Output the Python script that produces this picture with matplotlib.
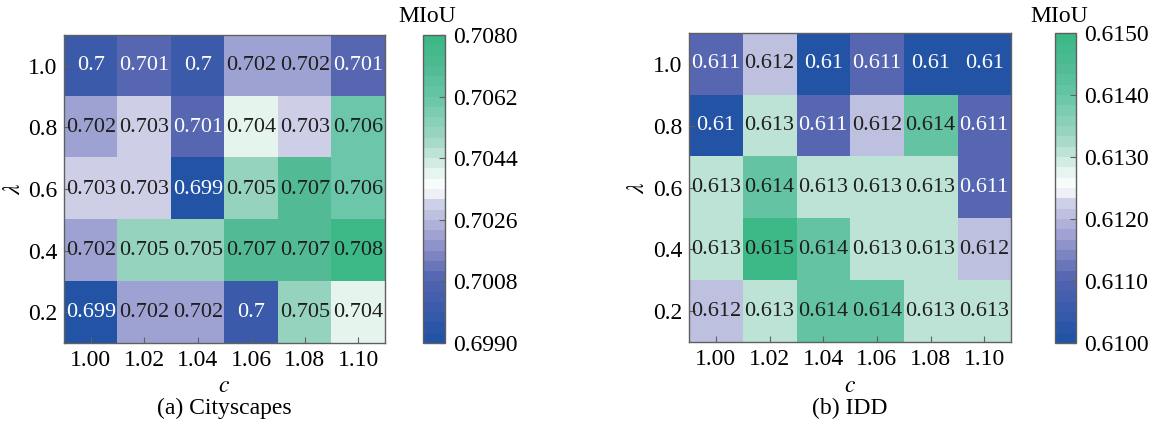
import numpy as np
import matplotlib
matplotlib.use("Agg")
import matplotlib.pyplot as plt
from matplotlib.colors import LinearSegmentedColormap

plt.rcParams["font.family"] = ["Liberation Serif", "DejaVu Serif"]
plt.rcParams["mathtext.fontset"] = "stix"
plt.rcParams["font.size"] = 17

# hyper-parameter grid
c_vals = ["1.00", "1.02", "1.04", "1.06", "1.08", "1.10"]
lam_vals = ["1.0", "0.8", "0.6", "0.4", "0.2"]  # top row first

# MIoU, rows = lambda (1.0 -> 0.2), cols = c
miou_cityscapes = [
    [0.700, 0.701, 0.700, 0.702, 0.702, 0.701],
    [0.702, 0.703, 0.701, 0.704, 0.703, 0.706],
    [0.703, 0.703, 0.699, 0.705, 0.707, 0.706],
    [0.702, 0.705, 0.705, 0.707, 0.707, 0.708],
    [0.699, 0.702, 0.702, 0.700, 0.705, 0.704],
]
miou_idd = [
    [0.611, 0.612, 0.610, 0.611, 0.610, 0.610],
    [0.610, 0.613, 0.611, 0.612, 0.614, 0.611],
    [0.613, 0.614, 0.613, 0.613, 0.613, 0.611],
    [0.613, 0.615, 0.614, 0.613, 0.613, 0.612],
    [0.612, 0.613, 0.614, 0.614, 0.613, 0.613],
]
cbar_range_cityscapes = (0.6990, 0.7080)
cbar_range_idd = (0.6100, 0.6150)

# blue -> white -> green, stepped like the original colormap
anchors = [
    (0.00, "#2253a5"), (0.20, "#5464b0"), (0.33, "#989ccf"),
    (0.45, "#cfd0e8"), (0.50, "#ffffff"), (0.56, "#e2f3ec"),
    (0.67, "#9ed6c3"), (0.80, "#6ac7a9"), (0.90, "#52bb95"),
    (1.00, "#3db887"),
]
cmap = LinearSegmentedColormap.from_list("bwg", anchors).resampled(30)

W, H = 1152, 425
fig = plt.figure(figsize=(W / 100, H / 100), dpi=100)


def px_rect(x0, y0, x1, y1):
    return [x0 / W, 1 - y1 / H, (x1 - x0) / W, (y1 - y0) / H]


frame_col = "#606060"
fs = 17
cell_fs = 16


def heatmap(ax_rect, cb_rect, data, vrange, subtitle):
    data = np.array(data)
    vmin, vmax = vrange
    ax = fig.add_axes(px_rect(*ax_rect))
    im = ax.imshow(data, cmap=cmap, vmin=vmin, vmax=vmax, aspect="auto",
                   interpolation="nearest")
    for i in range(data.shape[0]):
        for j in range(data.shape[1]):
            v = data[i, j]
            frac = (v - vmin) / (vmax - vmin)
            col = "white" if frac < 0.25 else "#1e1e1e"
            ax.text(j, i, f"{v:.3g}", ha="center", va="center", color=col,
                    fontsize=cell_fs)
    ax.set_xticks(range(len(c_vals)))
    ax.set_xticklabels(c_vals)
    ax.set_yticks(range(len(lam_vals)))
    ax.set_yticklabels(lam_vals)
    ax.tick_params(direction="in", length=4, color=frame_col, labelsize=fs,
                   pad=5)
    for s in ax.spines.values():
        s.set_color(frame_col)
        s.set_linewidth(1.0)

    # axis names and panel caption
    x_mid = (ax_rect[0] + ax_rect[2]) / 2
    y_mid = (ax_rect[1] + ax_rect[3]) / 2
    fig.text(x_mid / W, 1 - 386 / H, r"$c$", ha="center", va="center",
             fontsize=fs)
    fig.text(x_mid / W, 1 - 408 / H, subtitle, ha="center", va="center",
             fontsize=fs)
    fig.text((ax_rect[0] - 50) / W, 1 - y_mid / H, r"$\lambda$",
             ha="center", va="center", rotation=90, fontsize=fs)

    cax = fig.add_axes(px_rect(*cb_rect))
    cb = fig.colorbar(im, cax=cax)
    cb.set_ticks(np.linspace(vmin, vmax, 6))
    cb.ax.yaxis.set_major_formatter(matplotlib.ticker.FormatStrFormatter("%.4f"))
    cb.ax.tick_params(direction="in", length=4, color=frame_col, labelsize=fs,
                      pad=6)
    cb.outline.set_edgecolor(frame_col)
    cb.outline.set_linewidth(1.0)
    fig.text((cb_rect[0] + 4) / W, 1 - 16 / H, "MIoU", ha="center",
             va="center", fontsize=fs)


heatmap((64, 35, 385, 343), (423, 35, 445, 343), miou_cityscapes,
        cbar_range_cityscapes, "(a) Cityscapes")
heatmap((689, 33, 1011, 342), (1055, 33, 1076, 343), miou_idd,
        cbar_range_idd, "(b) IDD")

fig.savefig("out.png", dpi=100)
